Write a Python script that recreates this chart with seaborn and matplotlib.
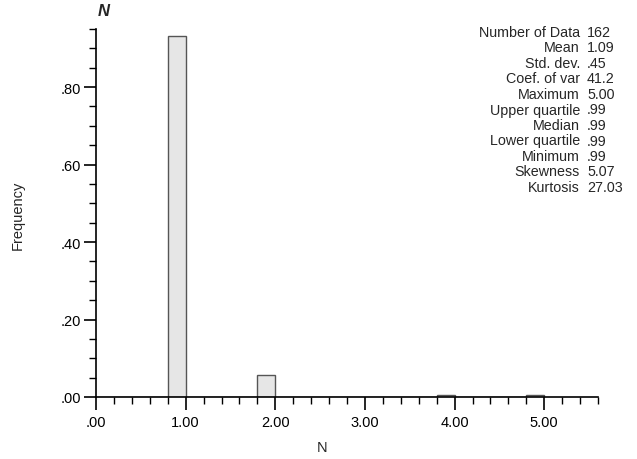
import matplotlib
matplotlib.use("Agg")
import matplotlib.pyplot as plt
import seaborn as sns
import numpy as np
import pandas as pd
from matplotlib.ticker import MultipleLocator, FuncFormatter

# Data (histogram of N, relative frequency per bin of width 0.2)
bin_edges = [0.0, 0.2, 0.4, 0.6, 0.8, 1.0, 1.2, 1.4, 1.6, 1.8, 2.0, 2.2, 2.4, 2.6,
             2.8, 3.0, 3.2, 3.4, 3.6, 3.8, 4.0, 4.2, 4.4, 4.6, 4.8, 5.0]
bin_centers = [0.9, 1.9, 3.9, 4.9]
frequencies = [0.932, 0.0556, 0.0062, 0.0062]

stat_names = ["Number of Data", "Mean", "Std. dev.", "Coef. of var", "Maximum",
              "Upper quartile", "Median", "Lower quartile", "Minimum", "Skewness", "Kurtosis"]
stat_values = ["162", "1.09", ".45", "41.2", "5.00", ".99", ".99", ".99", ".99", "5.07", "27.03"]

sns.set_style("white")
plt.rcParams["font.family"] = ["Liberation Sans", "DejaVu Sans"]

W, H = 637, 460
fig = plt.figure(figsize=(W / 100, H / 100), dpi=100)
ax = fig.add_axes([96 / W, 1 - 398 / H, (598 - 96) / W, (398 - 30) / H])

df = pd.DataFrame({"N": bin_centers, "freq": frequencies})
sns.histplot(data=df, x="N", weights="freq", bins=bin_edges, stat="count",
             color="#e6e6e6", edgecolor="#555555", linewidth=1.0, alpha=1.0, ax=ax)

ax.set_xlim(0, 5.6)
ax.set_ylim(0, 0.95)

ax.xaxis.set_major_locator(MultipleLocator(1.0))
ax.xaxis.set_minor_locator(MultipleLocator(0.2))
ax.yaxis.set_major_locator(MultipleLocator(0.2))
ax.yaxis.set_minor_locator(MultipleLocator(0.05))

def fmt(v, pos):
    s = f"{v:.2f}"
    if s.startswith("0"):
        s = s[1:]
    return s

ax.xaxis.set_major_formatter(FuncFormatter(fmt))
ax.yaxis.set_major_formatter(FuncFormatter(fmt))

for s in ["top", "right"]:
    ax.spines[s].set_visible(False)
for s in ["left", "bottom"]:
    ax.spines[s].set_color("black")
    ax.spines[s].set_linewidth(1.2)

ax.tick_params(axis="both", which="major", direction="out", length=9, width=1.2,
               color="black", labelsize=10.5, labelcolor="black", pad=2,
               left=True, bottom=True)
ax.tick_params(axis="both", which="minor", direction="out", length=5, width=1.0,
               color="black", left=True, bottom=True)
ax.tick_params(axis="x", which="major", pad=4)

ax.set_xlabel("N", fontsize=10.5)
ax.set_ylabel("Frequency", fontsize=10.5)
ax.xaxis.set_label_coords((322 - 96) / 502, (398 - 448) / 368)
ax.yaxis.set_label_coords((18 - 96) / 502, (398 - 215) / 368)
ax.xaxis.label.set_va("center")
ax.yaxis.label.set_va("center")
ax.grid(False)

fig.text(104 / W, 1 - 12 / H, "N", fontsize=12, fontweight="bold", fontstyle="italic",
         ha="center", va="center")

y0 = 33
dy = 15.5
for i, (n, v) in enumerate(zip(stat_names, stat_values)):
    y = 1 - (y0 + i * dy) / H
    fig.text(580 / W, y, n, fontsize=10.3, ha="right", va="center")
    fig.text(587 / W, y, v, fontsize=10.3, ha="left", va="center")

fig.savefig("out.png", dpi=100)
